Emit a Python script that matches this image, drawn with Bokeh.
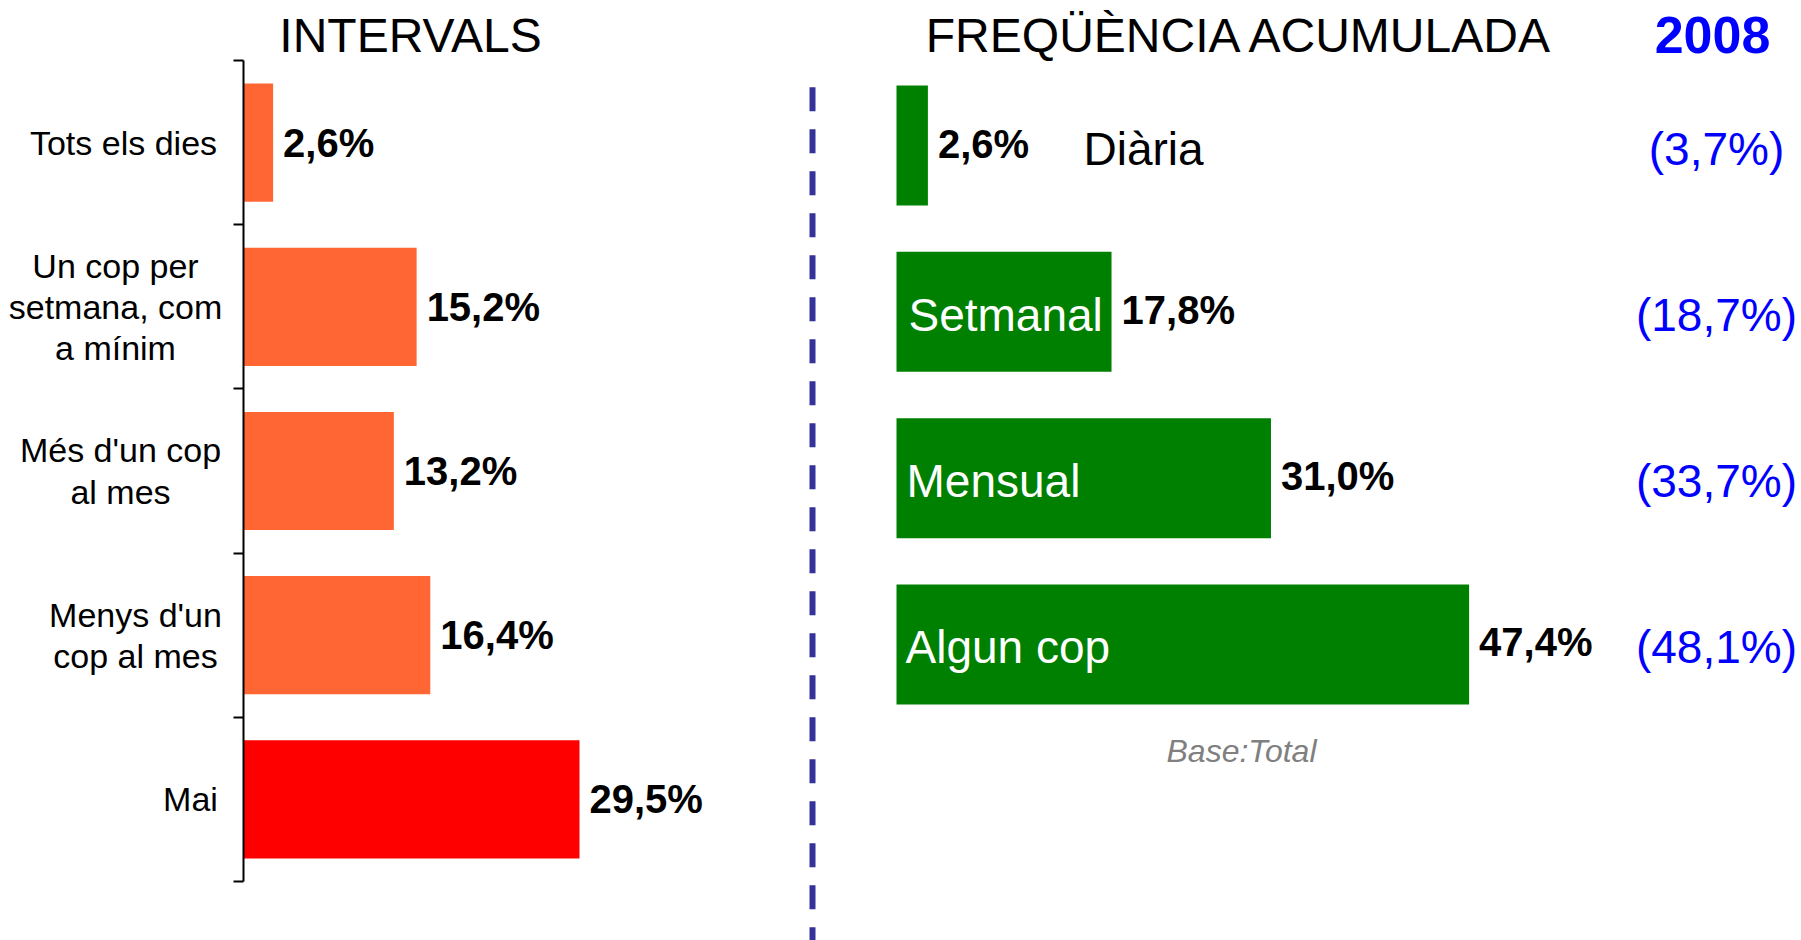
from bokeh.plotting import figure
from bokeh.models import Range1d, ColumnDataSource, LinearAxis, FixedTicker
from bokeh.embed import file_html
from bokeh.resources import INLINE
from bokeh.core.properties import value

# ---------------- data ----------------
interval_labels = ["Tots els dies", "Un cop per\nsetmana, com\na mínim",
                   "Més d'un cop\nal mes", "Menys d'un\ncop al mes", "Mai"]
interval_values = [2.6, 15.2, 13.2, 16.4, 29.5]

cum_labels = ["Diària", "Setmanal", "Mensual", "Algun cop"]
cum_values = [2.6, 17.8, 31.0, 47.4]
cum_2008 = [3.7, 18.7, 33.7, 48.1]

left_title = "INTERVALS"
right_title = "FREQÜÈNCIA ACUMULADA"
year_label = "2008"
base_note = "Base:Total"

# ---------------- styling / layout ----------------
FONT = value("Liberation Sans")
ORANGE, RED, GREEN, BLUE = "#FF6633", "#FF0000", "#008000", "#0000FF"
interval_colors = [ORANGE, ORANGE, ORANGE, ORANGE, RED]
label_offsets = [-120, -128, -123, -108, -53]      # px, centre of category text from axis
name_offsets = [187, 12, 10, 9]                     # px, from bar start
name_colors = ["black", "white", "white", "white"]

W, H = 1801, 940
M = 0  # page offset

# left panel geometry (window px)
L_X0, L_PX, L_Y0, L_ROW = 243, 11.39, 60, 164.2
# right panel geometry (window px)
R_X0, R_PX, R_Y0, R_ROW = 896, 12.08, 145, 166.33


def pct(v):
    return f"{v:.1f}".replace(".", ",") + "%"


p = figure(width=W, height=H, output_backend="svg", toolbar_location=None,
           x_range=Range1d(-(L_X0 - M) / L_PX, (W + M - L_X0) / L_PX),
           y_range=Range1d((H + M - L_Y0) / L_ROW, -(L_Y0 - M) / L_ROW),
           x_axis_location=None, y_axis_location=None)
p.extra_x_ranges = {"r": Range1d(-(R_X0 - M) / R_PX, (W + M - R_X0) / R_PX)}
p.extra_y_ranges = {"r": Range1d((H + M - R_Y0) / R_ROW, -(R_Y0 - M) / R_ROW)}
p.min_border = 0
p.min_border_left = p.min_border_right = p.min_border_top = p.min_border_bottom = 0
p.outline_line_color = None
p.grid.visible = False

# ---------------- left panel ----------------
ys = [i + 0.5 for i in range(len(interval_values))]
src_l = ColumnDataSource(dict(y=ys, v=interval_values, c=interval_colors,
                              t=[pct(v) for v in interval_values],
                              lab=interval_labels, off=label_offsets,
                              x0=[0] * len(ys)))
p.hbar(y="y", right="v", left=0, height=0.72, fill_color="c", line_color=None, source=src_l)
p.text(x="v", y="y", text="t", x_offset=10, source=src_l, text_font=FONT,
       text_font_size="40px", text_font_style="bold", text_color="black",
       text_baseline="middle", text_align="left")
p.text(x="x0", y="y", text="lab", x_offset="off", source=src_l, text_font=FONT,
       text_font_size="34px", text_color="black", text_align="center",
       text_baseline="middle", text_line_height=1.08)

ax = LinearAxis(fixed_location=0, bounds=(0, len(interval_values)),
                ticker=FixedTicker(ticks=list(range(len(interval_values) + 1))))
ax.major_label_overrides = {i: "" for i in range(len(interval_values) + 1)}
ax.major_label_text_font_size = "1px"
ax.axis_line_color = "black"
ax.axis_line_width = 2
ax.major_tick_line_color = "black"
ax.major_tick_line_width = 2
ax.major_tick_out = 10
ax.major_tick_in = 0
ax.minor_tick_line_color = None
p.add_layout(ax, "left")

p.text(x=[(410 - L_X0) / L_PX], y=[(35 - L_Y0) / L_ROW], text=[left_title], text_font=FONT,
       text_font_size="48px", text_color="black", text_align="center",
       text_baseline="middle")

# ---------------- right panel ----------------
yr = list(range(len(cum_values)))
src_r = ColumnDataSource(dict(y=yr, v=cum_values, t=[pct(v) for v in cum_values],
                              n=cum_labels, noff=name_offsets, nc=name_colors,
                              x0=[0] * len(yr),
                              p=["(" + pct(v) + ")" for v in cum_2008]))
RK = dict(x_range_name="r", y_range_name="r")

sep_x = (812 - R_X0) / R_PX
p.segment(x0=sep_x, x1=sep_x, y0=(86.7 - R_Y0) / R_ROW, y1=(H + M - R_Y0) / R_ROW,
          line_color="#333399", line_width=6, line_dash="24 18", **RK)

p.hbar(y="y", right="v", left=0, height=0.7215, fill_color=GREEN, line_color=None,
       source=src_r, **RK)
p.text(x="v", y="y", text="t", x_offset=10, y_offset=-2, source=src_r, text_font=FONT,
       text_font_size="40px", text_font_style="bold", text_color="black",
       text_baseline="middle", text_align="left", **RK)
p.text(x="x0", y="y", text="n", x_offset="noff", y_offset=3, source=src_r, text_font=FONT,
       text_font_size="46px", text_color="nc", text_baseline="middle", text_align="left", **RK)

cmp_x = (1716 - R_X0) / R_PX
p.text(x=[cmp_x] * len(yr), y=yr, text=src_r.data["p"], y_offset=3, text_font=FONT,
       text_font_size="46px", text_color=BLUE, text_baseline="middle", text_align="center", **RK)

p.text(x=[(1240 - R_X0) / R_PX], y=[(35 - R_Y0) / R_ROW], text=[right_title], text_font=FONT,
       text_font_size="48px", text_color="black", text_baseline="middle",
       text_align="center", **RK)
p.text(x=[(1712 - R_X0) / R_PX], y=[(34 - R_Y0) / R_ROW], text=[year_label], text_font=FONT,
       text_font_size="52px", text_font_style="bold", text_color=BLUE,
       text_baseline="middle", text_align="center", **RK)
p.text(x=[(1241 - R_X0) / R_PX], y=[(750 - R_Y0) / R_ROW], text=[base_note], text_font=FONT,
       text_font_size="32px", text_font_style="italic", text_color="#808080",
       text_baseline="middle", text_align="center", **RK)

open("out.html", "w").write(file_html(p, INLINE))
